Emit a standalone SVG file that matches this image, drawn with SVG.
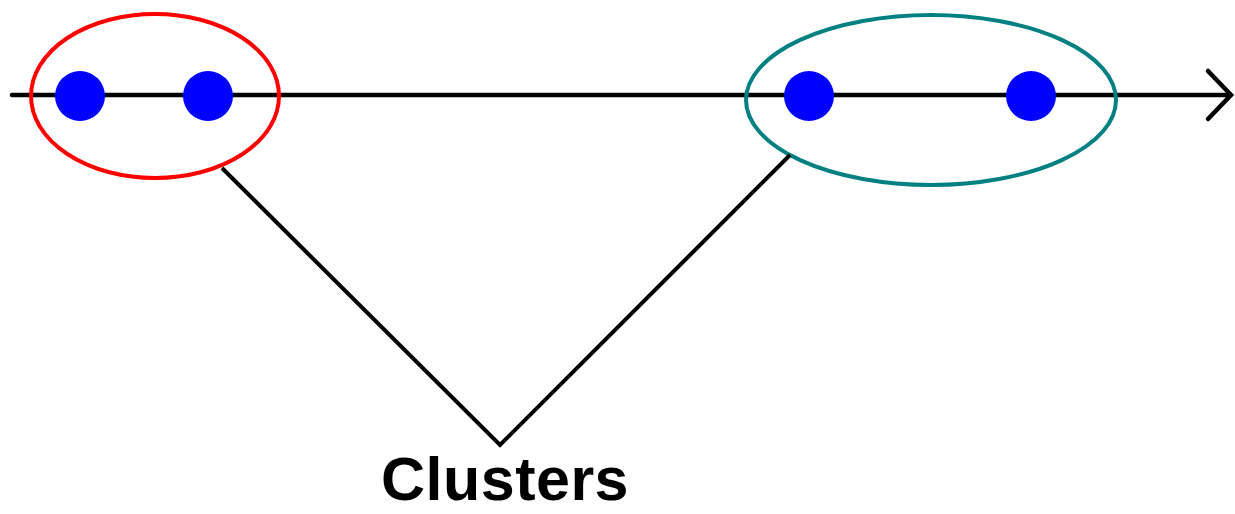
<svg xmlns="http://www.w3.org/2000/svg" width="1235" height="514" viewBox="0 0 1235 514">
  <style>
    .axis { stroke: #000; stroke-width: 4.5; fill: none; stroke-linecap: round; stroke-linejoin: miter; }
    .point { fill: #0000ff; }
    .ring { fill: none; stroke-width: 4; }
    .link { stroke: #000; stroke-width: 4; fill: none; stroke-linejoin: miter; }
    .label { font-family: "Liberation Sans", Arial, sans-serif; font-weight: bold; font-size: 61px; fill: #000; }
  </style>
  <rect width="1235" height="514" fill="#ffffff"/>

  <!-- number line -->
  <g id="axis">
    <line class="axis" x1="12" y1="95" x2="1230" y2="95"/>
    <polyline class="axis" points="1208,71 1231,95 1208,119"/>
  </g>

  <!-- data points -->
  <g id="points">
    <circle class="point" cx="80" cy="96" r="25"/>
    <circle class="point" cx="208" cy="96" r="25"/>
    <circle class="point" cx="809" cy="96" r="25"/>
    <circle class="point" cx="1031" cy="96" r="25"/>
  </g>

  <!-- cluster outlines -->
  <g id="cluster-left">
    <ellipse class="ring" stroke="#ff0000" cx="155" cy="96" rx="124" ry="82"/>
  </g>
  <g id="cluster-right">
    <ellipse class="ring" stroke="#008080" cx="931" cy="100" rx="185" ry="85"/>
  </g>

  <!-- pointer lines to the label -->
  <g id="connectors">
    <polyline class="link" points="222,168 500,445 790,155"/>
  </g>

  <g id="label">
    <text class="label" x="505" y="500" text-anchor="middle" letter-spacing="0.5">Clusters</text>
  </g>
</svg>
